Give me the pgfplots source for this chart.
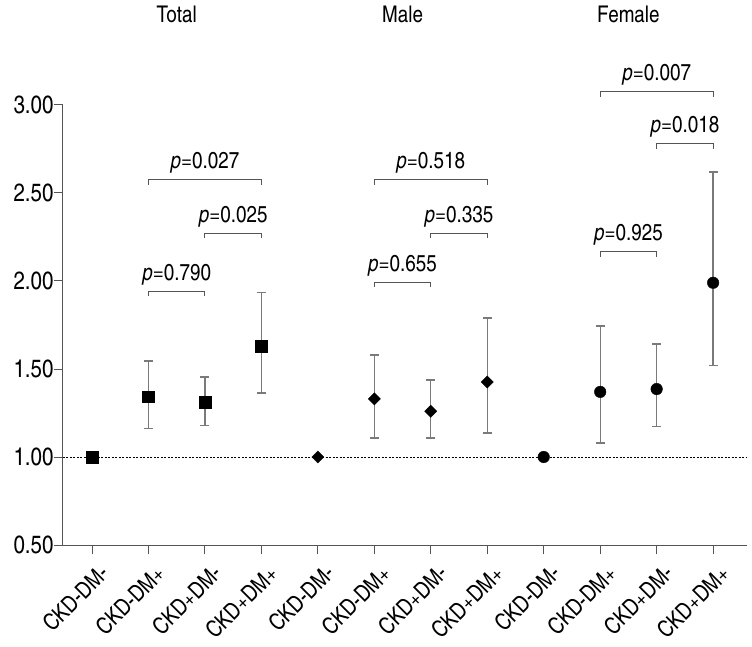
\documentclass[border=0pt]{standalone}
\usepackage{pgfplots}
\pgfplotsset{compat=1.18}
\usepackage{fontspec}
\setmainfont{texgyreheroscn}[Extension=.otf, UprightFont=*-regular, ItalicFont=*-italic, BoldFont=*-bold, BoldItalicFont=*-bolditalic]
\newcommand\ff{\fontsize{23bp}{27bp}\selectfont}
\newcommand\fx{\fontsize{25bp}{29bp}\selectfont}
\newcommand\fxl{\fontsize{23bp}{27bp}\selectfont}
\definecolor{axgray}{HTML}{555555}
\definecolor{ebgray}{HTML}{7A7A7A}
\begin{document}
\begin{tikzpicture}
\begin{axis}[
  at={(0,0)}, anchor=south west,
  scale only axis, width=684bp, height=440bp,
  xmin=-0.514, xmax=11.6, ymin=0.5, ymax=3.0,
  axis x line=bottom, axis y line=left,
  axis line style={-, axgray, line width=1bp},
  clip=false,
  xtick={0,1,...,11},
  xticklabels={CKD-DM-,CKD-DM+,CKD+DM-,CKD+DM+,CKD-DM-,CKD-DM+,CKD+DM-,CKD+DM+,CKD-DM-,CKD-DM+,CKD+DM-,CKD+DM+},
  ytick={0.5,1,1.5,2,2.5,3},
  yticklabels={0.50,1.00,1.50,2.00,2.50,3.00},
  tick align=outside, major tick length=9bp,
  tick style={axgray, line width=1bp},
  x tick label style={font=\fxl, xshift=6bp, yshift=-9bp, rotate=45, anchor=north east, inner sep=0bp},
  y tick label style={font=\fx, xshift=3bp},
]
% reference line
\addplot[black, line width=0.7bp, dash pattern=on 2bp off 1.5bp] coordinates {(-0.514,1) (11.6,1)};

% error bars
\addplot[only marks, mark=none, forget plot,
  error bars/.cd, y dir=both, y explicit,
  error bar style={ebgray, line width=1.3bp},
  error mark options={ebgray, rotate=90, mark size=4.5bp, line width=1.3bp}]
coordinates {
 (1,1.343) += (0,0.202) -= (0,0.183)
 (2,1.31) += (0,0.145) -= (0,0.13)
 (3,1.63) += (0,0.306) -= (0,0.266)
 (5,1.33) += (0,0.25) -= (0,0.222)
 (6,1.26) += (0,0.177) -= (0,0.152)
 (7,1.426) += (0,0.364) -= (0,0.29)
 (9,1.37) += (0,0.374) -= (0,0.29)
 (10,1.386) += (0,0.256) -= (0,0.214)
 (11,1.99) += (0,0.63) -= (0,0.47)
};

% markers
\addplot[only marks, mark=square*, mark size=5.8bp, black] coordinates {(0,1.0) (1,1.343) (2,1.31) (3,1.63)};
\addplot[only marks, mark=square*, mark size=4.3bp, mark options={rotate=45}, black] coordinates {(4,1.0) (5,1.33) (6,1.26) (7,1.426)};
\addplot[only marks, mark=*, mark size=5.8bp, black] coordinates {(8,1.0) (9,1.37) (10,1.386) (11,1.99)};

% brackets
\pgfplotsset{brk/.style={axgray, line width=1bp, mark=none}}
\addplot[brk] coordinates {(1,1.912) (1,1.94) (2,1.94) (2,1.912)};
\addplot[brk] coordinates {(2,2.242) (2,2.27) (3,2.27) (3,2.242)};
\addplot[brk] coordinates {(1,2.546) (1,2.574) (3,2.574) (3,2.546)};
\addplot[brk] coordinates {(5,1.966) (5,1.994) (6,1.994) (6,1.966)};
\addplot[brk] coordinates {(6,2.242) (6,2.27) (7,2.27) (7,2.242)};
\addplot[brk] coordinates {(5,2.546) (5,2.574) (7,2.574) (7,2.546)};
\addplot[brk] coordinates {(9,2.138) (9,2.166) (10,2.166) (10,2.138)};
\addplot[brk] coordinates {(10,2.752) (10,2.78) (11,2.78) (11,2.752)};
\addplot[brk] coordinates {(9,3.048) (9,3.076) (11,3.076) (11,3.048)};

\tikzset{pv/.style={font=\ff, anchor=base, yshift=11bp, inner sep=0pt}}
\node[pv] at (axis cs:1.5,1.94) {\textit{p}=0.790};
\node[pv] at (axis cs:2.5,2.27) {\textit{p}=0.025};
\node[pv] at (axis cs:2,2.574) {\textit{p}=0.027};
\node[pv] at (axis cs:5.5,1.994) {\textit{p}=0.655};
\node[pv] at (axis cs:6.5,2.27) {\textit{p}=0.335};
\node[pv] at (axis cs:6,2.574) {\textit{p}=0.518};
\node[pv] at (axis cs:9.5,2.166) {\textit{p}=0.925};
\node[pv] at (axis cs:10.5,2.78) {\textit{p}=0.018};
\node[pv] at (axis cs:10,3.076) {\textit{p}=0.007};

\tikzset{gt/.style={font=\ff, anchor=base, inner sep=0pt}}
\node[gt] at (axis cs:1.5,3.47) {Total};
\node[gt] at (axis cs:5.5,3.47) {Male};
\node[gt] at (axis cs:9.5,3.47) {Female};
\end{axis}
\pgfresetboundingbox
\path (-63bp,-102bp) rectangle (689bp,545bp);
\end{tikzpicture}
\end{document}
